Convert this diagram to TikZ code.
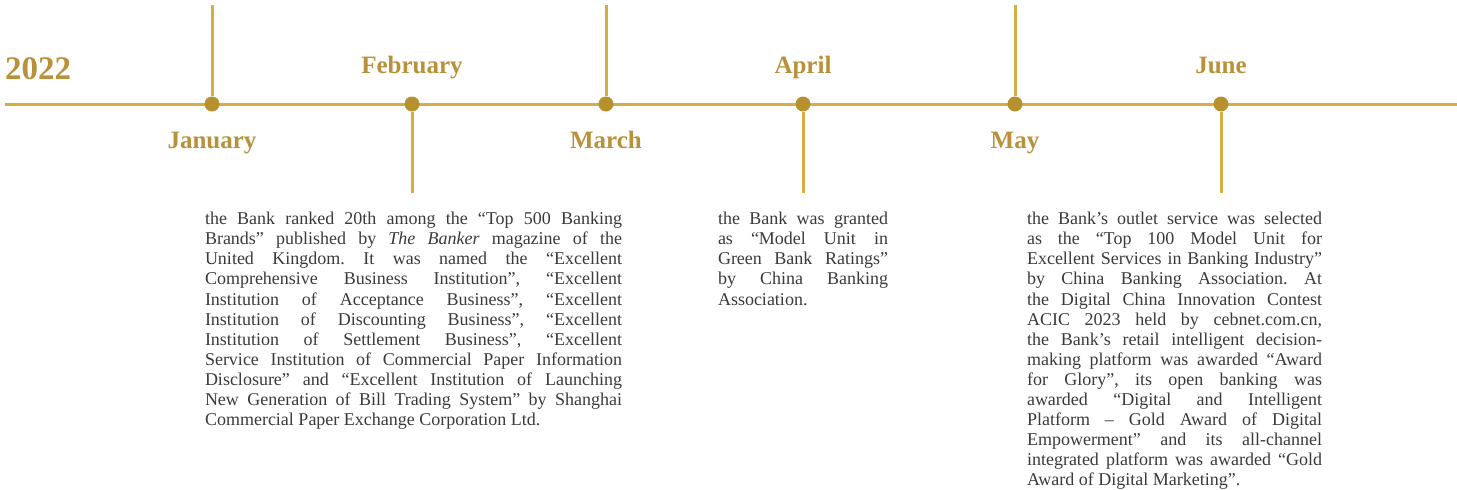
\documentclass[tikz,border=0pt]{standalone}
\usepackage{fontspec}
\setmainfont{Liberation Serif}
\usetikzlibrary{positioning}
\definecolor{goldline}{HTML}{D4AE42}
\definecolor{golddot}{HTML}{B8912F}
\definecolor{goldtext}{HTML}{B8913A}
\definecolor{bodytext}{HTML}{3A3A3A}
\hyphenpenalty=10000
\frenchspacing

\begin{document}
\begin{tikzpicture}[x=1pt, y=-1pt,
    gline/.style={draw=goldline, line width=3pt},
    dot/.style={circle, fill=golddot, inner sep=0pt, minimum size=15pt},
    month/.style={text=goldtext, font=\fontsize{25}{29}\selectfont\bfseries, inner sep=0pt},
    body/.style={text=bodytext, font=\fontsize{18}{20.1}\selectfont, inner sep=0pt, align=justify, anchor=north}]
    \useasboundingbox (0,0) rectangle (1457,490);
    \coordinate (lstart) at (5,104);
    \coordinate (lend) at (1457,104);
    \draw[gline] (lstart) -- (lend);
    \node (jan) [dot] at (212,104) {};
    \node (feb) [dot] at (412,104) {};
    \node (mar) [dot] at (606,104) {};
    \node (apr) [dot] at (803,104) {};
    \node (may) [dot] at (1015,104) {};
    \node (jun) [dot] at (1221,104) {};
    \coordinate (jantop) at (212,5);
    \coordinate (febend) at (412,193);
    \coordinate (martop) at (606,5);
    \coordinate (aprend) at (803,193);
    \coordinate (maytop) at (1015,5);
    \coordinate (junend) at (1221,193);
    \draw[gline] (jan) -- (jantop);
    \draw[gline] (feb) -- (febend);
    \draw[gline] (mar) -- (martop);
    \draw[gline] (apr) -- (aprend);
    \draw[gline] (may) -- (maytop);
    \draw[gline] (jun) -- (junend);
    \node (year) [month, font=\fontsize{33}{36}\selectfont\bfseries, anchor=base west] at (5,79) {2022};
    \node (janlbl) [month, below=36.5pt of jan, anchor=base] {January};
    \node (feblbl) [month, above=22.5pt of feb, anchor=base] {February};
    \node (marlbl) [month, below=36.5pt of mar, anchor=base] {March};
    \node (aprlbl) [month, above=22.5pt of apr, anchor=base] {April};
    \node (maylbl) [month, below=36.5pt of may, anchor=base] {May};
    \node (junlbl) [month, above=22.5pt of jun, anchor=base] {June};
    \node (febtxt) [body, text width=417pt, below=19pt of febend, xshift=1.5pt] {the Bank ranked 20th among the “Top 500 Banking\linebreak
      Brands” published by \textit{The Banker} magazine of the\linebreak
      United Kingdom. It was named the “Excellent\linebreak
      Comprehensive Business Institution”, “Excellent\linebreak
      Institution of Acceptance Business”, “Excellent\linebreak
      Institution of Discounting Business”, “Excellent\linebreak
      Institution of Settlement Business”, “Excellent\linebreak
      Service Institution of Commercial Paper Information\linebreak
      Disclosure” and “Excellent Institution of Launching\linebreak
      New Generation of Bill Trading System” by Shanghai\linebreak
      Commercial Paper Exchange Corporation Ltd.};
    \node (aprtxt) [body, text width=170pt, below=19pt of aprend] {the Bank was granted\linebreak
      as “Model Unit in\linebreak
      Green Bank Ratings”\linebreak
      by China Banking\linebreak
      Association.};
    \node (juntxt) [body, text width=295pt, below=19pt of junend, xshift=-46.5pt] {the Bank’s outlet service was selected\linebreak
      as the “Top 100 Model Unit for\linebreak
      Excellent Services in Banking Industry”\linebreak
      by China Banking Association. At\linebreak
      the Digital China Innovation Contest\linebreak
      ACIC 2023 held by cebnet.com.cn,\linebreak
      the Bank’s retail intelligent decision-\linebreak
      making platform was awarded “Award\linebreak
      for Glory”, its open banking was\linebreak
      awarded “Digital and Intelligent\linebreak
      Platform – Gold Award of Digital\linebreak
      Empowerment” and its all-channel\linebreak
      integrated platform was awarded “Gold\linebreak
      Award of Digital Marketing”.};
\end{tikzpicture}
\end{document}
